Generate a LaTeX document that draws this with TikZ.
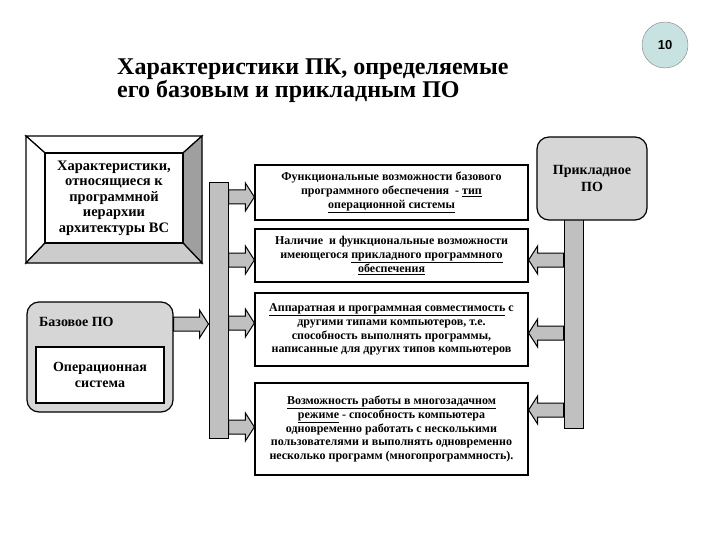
\documentclass[tikz,border=0pt]{standalone}
\usepackage{fontspec}
\setmainfont{Liberation Serif}
\setsansfont{Liberation Sans}
\usetikzlibrary{calc}
\definecolor{bargray}{HTML}{C0C0C0}
\definecolor{boxgray}{HTML}{D6D6D6}
\definecolor{pagecirc}{HTML}{C8E2E2}
\tikzset{txtbox/.style={draw,line width=1.2pt,fill=white,font=\bfseries\fontsize{12}{13.7}\selectfont,align=center,inner sep=0pt,minimum width=273},
  rbox/.style={draw,line width=1.2pt,fill=boxgray,rounded corners=12pt,inner sep=0pt},
  blk/.style={draw,line width=1pt,fill=bargray}}
% block arrow from anchor #1 to anchor #2 at height #3
\newcommand\barr[3]{\path(#1|-0,#3)coordinate(ba)(#2|-0,#3)coordinate(bb);
  \draw[blk] let \p1=(ba),\p2=(bb),\n1={ifthenelse(\x2>\x1,1,-1)} in
  (\x1,\y1+7pt)--(\x2-\n1*9pt,\y1+7pt)--(\x2-\n1*9pt,\y1+14pt)--(\x2,\y1)--(\x2-\n1*9pt,\y1-14pt)--(\x2-\n1*9pt,\y1-7pt)--(\x1,\y1-7pt)--cycle;}

\begin{document}
\begin{tikzpicture}[x=1pt,y=-1pt]
\useasboundingbox(0,0)rectangle(720,540);
\node[anchor=north west,align=left,inner sep=0pt,font=\bfseries\fontsize{24}{23}\selectfont](title)at(117,59){Характеристики ПК, определяемые\\его базовым и прикладным ПО};
\node[circle,draw=gray,fill=pagecirc,minimum size=46,font=\sffamily\bfseries\fontsize{13}{13}\selectfont](pg)at(665,45){10};
% bevelled box
\draw[line width=1.2pt,fill=white](26,136)--(202,136)--(183,153)--(45,153)--cycle;
\draw[line width=1.2pt,fill=white](26,136)--(45,153)--(45,243)--(26,263)--cycle;
\draw[line width=1.2pt,fill=gray!75](202,136)--(202,263)--(183,243)--(183,153)--cycle;
\draw[line width=1.2pt,fill=gray!40](26,263)--(202,263)--(183,243)--(45,243)--cycle;
\node[draw,line width=1.2pt,fill=white,minimum width=138,minimum height=90,inner sep=0pt,align=center,font=\bfseries\fontsize{14.5}{15.5}\selectfont](hier)at(114,198){Характеристики,\\относящиеся к\\программной\\иерархии\\архитектуры ВС};
% base software
\node[rbox,minimum width=146,minimum height=110](base)at(100,357){};
\node[anchor=west,inner sep=0pt,font=\bfseries\fontsize{14}{15}\selectfont](baselbl)at(39,322){Базовое ПО};
\node[draw,line width=1.2pt,fill=white,minimum width=128,minimum height=56,inner sep=0pt,align=center,font=\bfseries\fontsize{14}{16}\selectfont](os)at(100,375){Операционная\\система};
% applied software
\node[blk,minimum width=19,minimum height=208,inner sep=0pt](barR)at(573.5,324){};
\node[rbox,minimum width=110,minimum height=83,align=center,font=\bfseries\fontsize{14}{17}\selectfont](appl)at(592,178.5){Прикладное\\ПО};
\node[blk,minimum width=19,minimum height=255,inner sep=0pt](barL)at(218.5,310.5){};
% middle boxes
\node[txtbox,minimum height=55](b1)at(391.5,192.5){Функциональные возможности базового\\программного обеспечения~ - \underline{тип}\\\underline{операционной системы}};
\node[txtbox,minimum height=53](b2)at(391.5,255.5){Наличие~ и функциональные возможности\\имеющегося \underline{прикладного программного}\\\underline{обеспечения}};
\node[txtbox,minimum height=73](b3)at(391.5,329.5){\underline{Аппаратная и программная совместимость} с\\другими типами компьютеров, т.е.\\способность выполнять программы,\\написанные для других типов компьютеров};
\node[txtbox,minimum height=92](b4)at(391.5,429){\underline{Возможность работы в многозадачном}\\\underline{режиме} - способность компьютера\\одновременно работать с несколькими\\пользователями и выполнять одновременно\\несколько программ (многопрограммность).};
% arrows
\barr{base.east}{barL.west}{324}
\foreach \b/\y in {b1/197,b2/260,b3/323,b4/427}{\barr{barL.east}{\b.west}{\y}}
\foreach \b/\y in {b2/260,b3/333,b4/410}{\barr{barR.west}{\b.east}{\y}}
\end{tikzpicture}
\end{document}
